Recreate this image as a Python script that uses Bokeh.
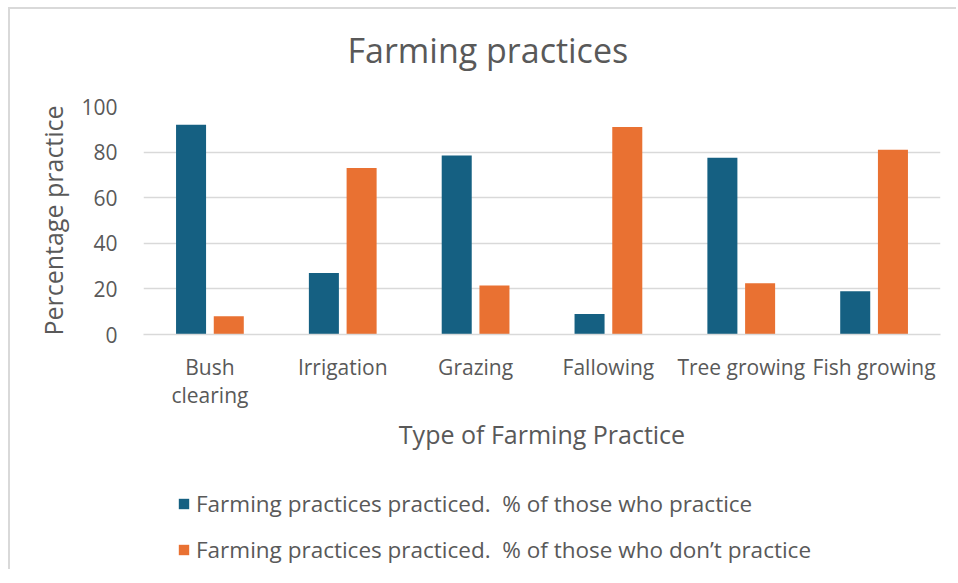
from bokeh.plotting import figure
from bokeh.models import ColumnDataSource, Range1d, Legend, LegendItem, FixedTicker
from bokeh.layouts import column
from bokeh.transform import dodge
from bokeh.embed import file_html
from bokeh.resources import INLINE

categories = ["Bush\nclearing", "Irrigation", "Grazing", "Fallowing", "Tree growing", "Fish growing"]
practice = [92, 27, 78.5, 9, 77.5, 19]
dont_practice = [8, 73, 21.5, 91, 22.5, 81]
series_names = ["Farming practices practiced.  % of those who practice",
                "Farming practices practiced.  % of those who don\u2019t practice"]
y_ticks = [0, 20, 40, 60, 80, 100]

BLUE = "#156082"
ORANGE = "#E97132"
GREY = "#595959"
GRID = "#d9d9d9"
FONT = "Open Sans"
W = 946

source = ColumnDataSource(dict(cat=categories, a=practice, b=dont_practice))


def blank(fig):
    fig.axis.visible = False
    fig.grid.visible = False
    fig.outline_line_color = None


# --- title strip ---
p0 = figure(width=W, height=82, x_range=Range1d(0, 1), y_range=Range1d(0, 1),
            output_backend="svg", toolbar_location=None,
            min_border_left=133, min_border_right=16, min_border_top=0, min_border_bottom=0)
blank(p0)
p0.title.text = "Farming practices"
p0.title.align = "left"
p0.title.offset = 204
p0.title.text_font = FONT
p0.title.text_font_size = "34px"
p0.title.text_font_style = "normal"
p0.title.text_color = GREY
p0.title.standoff = 30

# --- main chart ---
p = figure(width=W, height=378, x_range=categories, y_range=Range1d(0, 100),
           output_backend="svg", toolbar_location=None,
           min_border_left=133, min_border_right=16, min_border_top=15, min_border_bottom=135)

r1 = p.vbar(x=dodge("cat", -0.142, range=p.x_range), top="a", width=0.226, source=source,
            fill_color=BLUE, line_color=None)
r2 = p.vbar(x=dodge("cat", 0.142, range=p.x_range), top="b", width=0.226, source=source,
            fill_color=ORANGE, line_color=None)

p.outline_line_color = None
p.xgrid.grid_line_color = None
p.ygrid.grid_line_color = GRID
p.ygrid.grid_line_width = 1.5
p.yaxis.ticker = FixedTicker(ticks=y_ticks)

p.yaxis.axis_line_color = None
p.yaxis.major_tick_line_color = None
p.yaxis.minor_tick_line_color = None
p.yaxis.major_label_text_font = FONT
p.yaxis.major_label_text_font_size = "21px"
p.yaxis.major_label_text_color = GREY
p.yaxis.major_label_standoff = 20
p.yaxis.axis_label = "Percentage practice"
p.yaxis.axis_label_text_font = FONT
p.yaxis.axis_label_text_font_size = "25px"
p.yaxis.axis_label_text_font_style = "normal"
p.yaxis.axis_label_text_color = GREY
p.yaxis.axis_label_standoff = 8

p.xaxis.axis_line_color = GRID
p.xaxis.axis_line_width = 1.5
p.xaxis.major_tick_line_color = None
p.xaxis.minor_tick_line_color = None
p.xaxis.major_label_text_font = FONT
p.xaxis.major_label_text_font_size = "21px"
p.xaxis.major_label_text_color = GREY
p.xaxis.major_label_text_line_height = 1.03
p.xaxis.major_label_standoff = 12
p.xaxis.axis_label = "Type of Farming Practice"
p.xaxis.axis_label_text_font = FONT
p.xaxis.axis_label_text_font_size = "25px"
p.xaxis.axis_label_text_font_style = "normal"
p.xaxis.axis_label_text_color = GREY
p.xaxis.axis_label_standoff = 5

# --- legend strip ---
p2 = figure(width=W, height=100, x_range=categories, y_range=Range1d(0, 100),
            output_backend="svg", toolbar_location=None,
            min_border_left=133, min_border_right=16, min_border_top=0, min_border_bottom=0)
blank(p2)
l1 = p2.vbar(x="cat", top="a", width=0.226, source=source, fill_color=BLUE, line_color=None, visible=False)
l2 = p2.vbar(x="cat", top="b", width=0.226, source=source, fill_color=ORANGE, line_color=None, visible=False)

legend = Legend(items=[LegendItem(label=series_names[0], renderers=[l1]),
                       LegendItem(label=series_names[1], renderers=[l2])],
                location=(34, 4), orientation="vertical")
legend.label_text_font = FONT
legend.label_text_font_size = "22.5px"
legend.label_text_color = GREY
legend.glyph_width = 13
legend.glyph_height = 13
legend.label_height = 20
legend.label_standoff = 6
legend.spacing = 15
legend.padding = 0
legend.margin = 0
legend.border_line_color = None
legend.background_fill_alpha = 0
p2.add_layout(legend, "center")

layout = column(p0, p, p2, spacing=0)
layout.styles = {"margin-left": "8px", "margin-top": "7px",
                 "border-left": "2px solid #d9d9d9", "border-top": "2px solid #d9d9d9"}

open("out.html", "w").write(file_html(layout, INLINE))
